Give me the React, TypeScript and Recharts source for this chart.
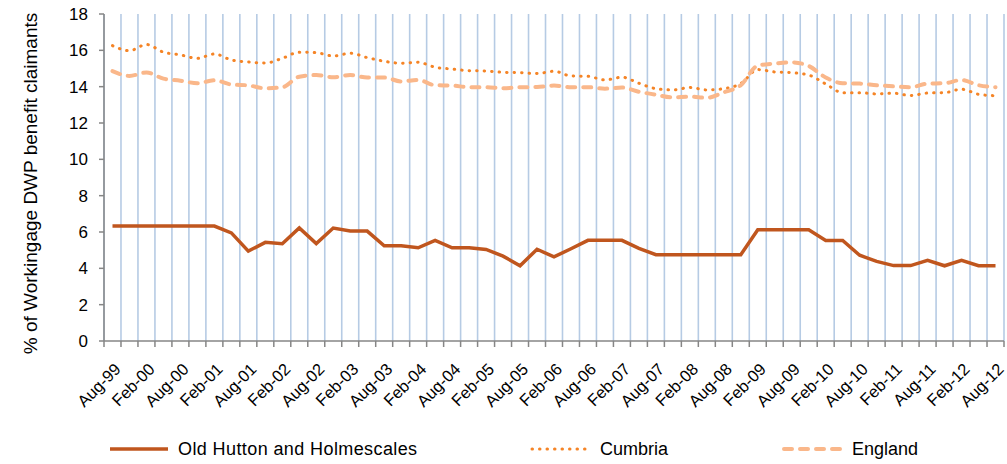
import React from 'react';
import { LineChart, Line, XAxis, YAxis, CartesianGrid, Legend, Label } from 'recharts';

const FONT = '"Liberation Sans", Arial, sans-serif';

// quarterly readings, Aug-99 .. Aug-12
const quarters = [
  'Aug-99', 'Nov-99', 'Feb-00', 'May-00', 'Aug-00', 'Nov-00', 'Feb-01', 'May-01',
  'Aug-01', 'Nov-01', 'Feb-02', 'May-02', 'Aug-02', 'Nov-02', 'Feb-03', 'May-03',
  'Aug-03', 'Nov-03', 'Feb-04', 'May-04', 'Aug-04', 'Nov-04', 'Feb-05', 'May-05',
  'Aug-05', 'Nov-05', 'Feb-06', 'May-06', 'Aug-06', 'Nov-06', 'Feb-07', 'May-07',
  'Aug-07', 'Nov-07', 'Feb-08', 'May-08', 'Aug-08', 'Nov-08', 'Feb-09', 'May-09',
  'Aug-09', 'Nov-09', 'Feb-10', 'May-10', 'Aug-10', 'Nov-10', 'Feb-11', 'May-11',
  'Aug-11', 'Nov-11', 'Feb-12', 'May-12', 'Aug-12',
];

const oldHutton = [
  6.33, 6.33, 6.33, 6.33, 6.33, 6.33, 6.33, 5.95, 4.95, 5.43, 5.35, 6.22, 5.36, 6.22,
  6.05, 6.05, 5.24, 5.24, 5.13, 5.54, 5.13, 5.13, 5.04, 4.67, 4.14, 5.05, 4.63, 5.08,
  5.54, 5.54, 5.54, 5.1, 4.75, 4.75, 4.75, 4.75, 4.75, 4.75, 6.12, 6.12, 6.12, 6.12,
  5.53, 5.53, 4.72, 4.38, 4.15, 4.15, 4.44, 4.14, 4.44, 4.14, 4.14,
];

const cumbria = [
  16.26, 15.98, 16.32, 15.9, 15.75, 15.56, 15.8, 15.47, 15.36, 15.3, 15.56, 15.9, 15.87,
  15.69, 15.84, 15.6, 15.4, 15.29, 15.34, 15.07, 14.97, 14.88, 14.86, 14.79, 14.77,
  14.72, 14.85, 14.59, 14.57, 14.37, 14.52, 14.19, 13.89, 13.82, 13.95, 13.82, 13.89,
  14.17, 14.94, 14.81, 14.77, 14.64, 14.15, 13.67, 13.67, 13.6, 13.64, 13.51, 13.65,
  13.67, 13.86, 13.58, 13.5,
];

const england = [
  14.86, 14.59, 14.78, 14.44, 14.33, 14.19, 14.35, 14.12, 14.07, 13.91, 13.97, 14.55,
  14.64, 14.52, 14.64, 14.5, 14.5, 14.29, 14.37, 14.08, 14.06, 13.97, 13.97, 13.91,
  13.97, 13.98, 14.06, 13.97, 13.97, 13.89, 13.95, 13.72, 13.56, 13.41, 13.45, 13.39,
  13.69, 14.08, 15.16, 15.27, 15.34, 15.14, 14.5, 14.19, 14.17, 14.08, 14.02, 13.97,
  14.17, 14.19, 14.37, 14.08, 13.97,
];

const yTicks = [0, 2, 4, 6, 8, 10, 12, 14, 16, 18];

const series = [
  { key: 'oldHutton', name: 'Old Hutton and Holmescales', color: '#C0561E', width: 3.5, dash: undefined, cap: 'butt', curve: 'linear', legendLeft: 108 },
  { key: 'cumbria', name: 'Cumbria', color: '#F58426', width: 3, dash: '0.5 7', cap: 'round', curve: 'monotone', legendLeft: 530 },
  { key: 'england', name: 'England', color: '#FAB78A', width: 4, dash: '8 8', cap: 'round', curve: 'monotone', legendLeft: 782 },
];

const data = quarters.map((q, i) => ({
  idx: i,
  quarter: q,
  oldHutton: oldHutton[i],
  cumbria: cumbria[i],
  england: england[i],
}));

// grid lines and tick marks sit between quarters, labels on every other quarter
const domain = [-0.5, quarters.length - 0.5];
const boundaryTicks = [...quarters.map((_, i) => i - 0.5), quarters.length - 0.5];
const labelTicks = quarters.map((_, i) => i).filter(i => i % 2 === 0);

const AXIS = '#868686';

const YTitle = ({ viewBox }: any) => {
  const cx = viewBox.x + 30;
  const cy = viewBox.y + viewBox.height / 2 + 6;
  return (
    <text x={cx} y={cy} transform={`rotate(-90, ${cx}, ${cy})`} textAnchor="middle" dominantBaseline="central"
      style={{ fontFamily: FONT, fontSize: 19, fill: '#000' }}>
      % of Workingage DWP benefit claimants
    </text>
  );
};

const LegendContent = () => (
  <div style={{ position: 'relative', height: 30, fontFamily: FONT, fontSize: 18, color: '#000' }}>
    {series.map(s => (
      <div key={s.key} style={{ position: 'absolute', left: s.legendLeft, top: 0, height: 30, display: 'flex', alignItems: 'center' }}>
        <svg width={62} height={8}>
          <line x1={2} y1={4} x2={60} y2={4} stroke={s.color} strokeWidth={s.width}
            strokeDasharray={s.dash} strokeLinecap={s.cap as any} />
        </svg>
        <span style={{ marginLeft: 8, whiteSpace: 'nowrap', letterSpacing: s.key === 'oldHutton' ? 0.4 : 0 }}>{s.name}</span>
      </div>
    ))}
  </div>
);

export default function App() {
  return (
    <div style={{ position: 'absolute', left: 0, top: 0, background: '#fff' }}>
      <LineChart width={1007} height={464} data={data} margin={{ top: 14, right: 3, bottom: 0, left: 0 }}>
        <CartesianGrid xAxisId="grid" horizontal={false} stroke="#B6CBE4" strokeWidth={1.6} />
        <XAxis xAxisId="grid" dataKey="idx" type="number" domain={domain} ticks={boundaryTicks} interval={0}
          allowDataOverflow tickFormatter={() => ''} tickSize={6} height={6}
          axisLine={{ stroke: AXIS, strokeWidth: 1.5 }} tickLine={{ stroke: AXIS, strokeWidth: 1.5 }} />
        <XAxis xAxisId="labels" dataKey="idx" type="number" domain={domain} ticks={labelTicks} interval={0}
          allowDataOverflow tickFormatter={(i: number) => quarters[i]} axisLine={false} tickLine={false}
          tickSize={0} tickMargin={15} angle={-45} textAnchor="end" dx={1} height={87}
          tick={{ fontSize: 16.5, fill: '#000', fontFamily: FONT }} />
        <YAxis domain={[0, 18]} ticks={yTicks} interval={0} width={104} tickSize={5} tickMargin={11}
          axisLine={{ stroke: AXIS, strokeWidth: 1.5 }} tickLine={{ stroke: AXIS, strokeWidth: 1.5 }}
          tick={{ fontSize: 17, fill: '#000', fontFamily: FONT }}>
          <Label content={YTitle} />
        </YAxis>
        <Legend verticalAlign="bottom" height={30} content={LegendContent} />
        {series.map(s => (
          <Line key={s.key} xAxisId="grid" type={s.curve as any} dataKey={s.key} name={s.name}
            stroke={s.color} strokeWidth={s.width} strokeDasharray={s.dash} strokeLinecap={s.cap as any}
            dot={false} activeDot={false} isAnimationActive={false} />
        ))}
      </LineChart>
    </div>
  );
}
